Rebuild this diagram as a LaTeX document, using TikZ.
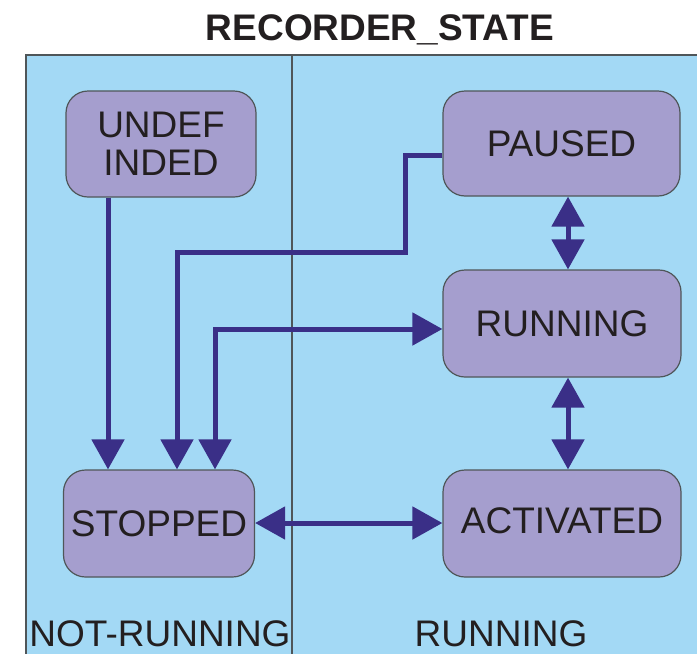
\documentclass[tikz,border=0pt]{standalone}
\usepackage{fontspec}
\setmainfont{Liberation Sans}
\usetikzlibrary{arrows.meta}
\definecolor{bgblue}{HTML}{A3D9F5}
\definecolor{statefill}{HTML}{A59ECE}
\definecolor{arrowcol}{HTML}{3A2F87}
\definecolor{edgegray}{HTML}{4F5659}
\definecolor{textcol}{HTML}{231F20}
\begin{document}
\begin{tikzpicture}[x=1pt,y=-1pt,
  state/.style={draw=edgegray, line width=1.2pt, fill=statefill, rounded corners=22pt,
    inner sep=0pt, font=\fontsize{37}{38}\selectfont, text=textcol, align=center},
  tipA/.tip={Triangle[length=30pt,width=32pt]},
  arr/.style={draw=arrowcol, line width=5pt, -tipA},
  darr/.style={draw=arrowcol, line width=5pt, tipA-tipA},
  lbl/.style={font=\fontsize{37}{38}\selectfont, text=textcol, anchor=base, inner sep=0pt}]
\useasboundingbox (0,0) rectangle (697,654);
\fill[white] (0,0) rectangle (697,654);
\draw[edgegray, line width=1.2pt, fill=bgblue] (26,55) rectangle (705,665);
\draw[edgegray, line width=1.2pt] (292,55) -- (292,660);

\node[font=\bfseries\fontsize{37}{38}\selectfont, anchor=base, text=textcol, inner sep=0pt] (title) at (380,40) {RECORDER\_STATE};

\node[state, minimum width=190pt, minimum height=106pt] (undef) at (161,144) {UNDEF\\INDED};
\node[state, minimum width=237pt, minimum height=105pt] (paused) at (561.5,143.5) {PAUSED};
\node[state, minimum width=238pt, minimum height=107pt] (running) at (562,323.5) {RUNNING};
\node[state, minimum width=238pt, minimum height=107pt, text depth=6pt] (activated) at (562,523.5) {ACTIVATED};
\node[state, minimum width=191pt, minimum height=107pt] (stopped) at (159,523.5) {STOPPED};

\node[lbl] (lnot) at (160,646) {NOT-RUNNING};
\node[lbl] (lrun) at (501,646) {RUNNING};

\draw[arr] (undef.south -| 108,0) -- (stopped.north -| 108,0);
\draw[arr] (paused.west |- 0,155) -| (405,252) -| (stopped.north -| 177,0);
\draw[darr] (stopped.north -| 215,0) |- (running.west |- 0,329);
\draw[darr] (paused.south -| 568,0) -- (running.north -| 568,0);
\draw[darr] (running.south -| 568,0) -- (activated.north -| 568,0);
\draw[darr] (stopped.east |- 0,523) -- (activated.west |- 0,523);
\end{tikzpicture}
\end{document}
